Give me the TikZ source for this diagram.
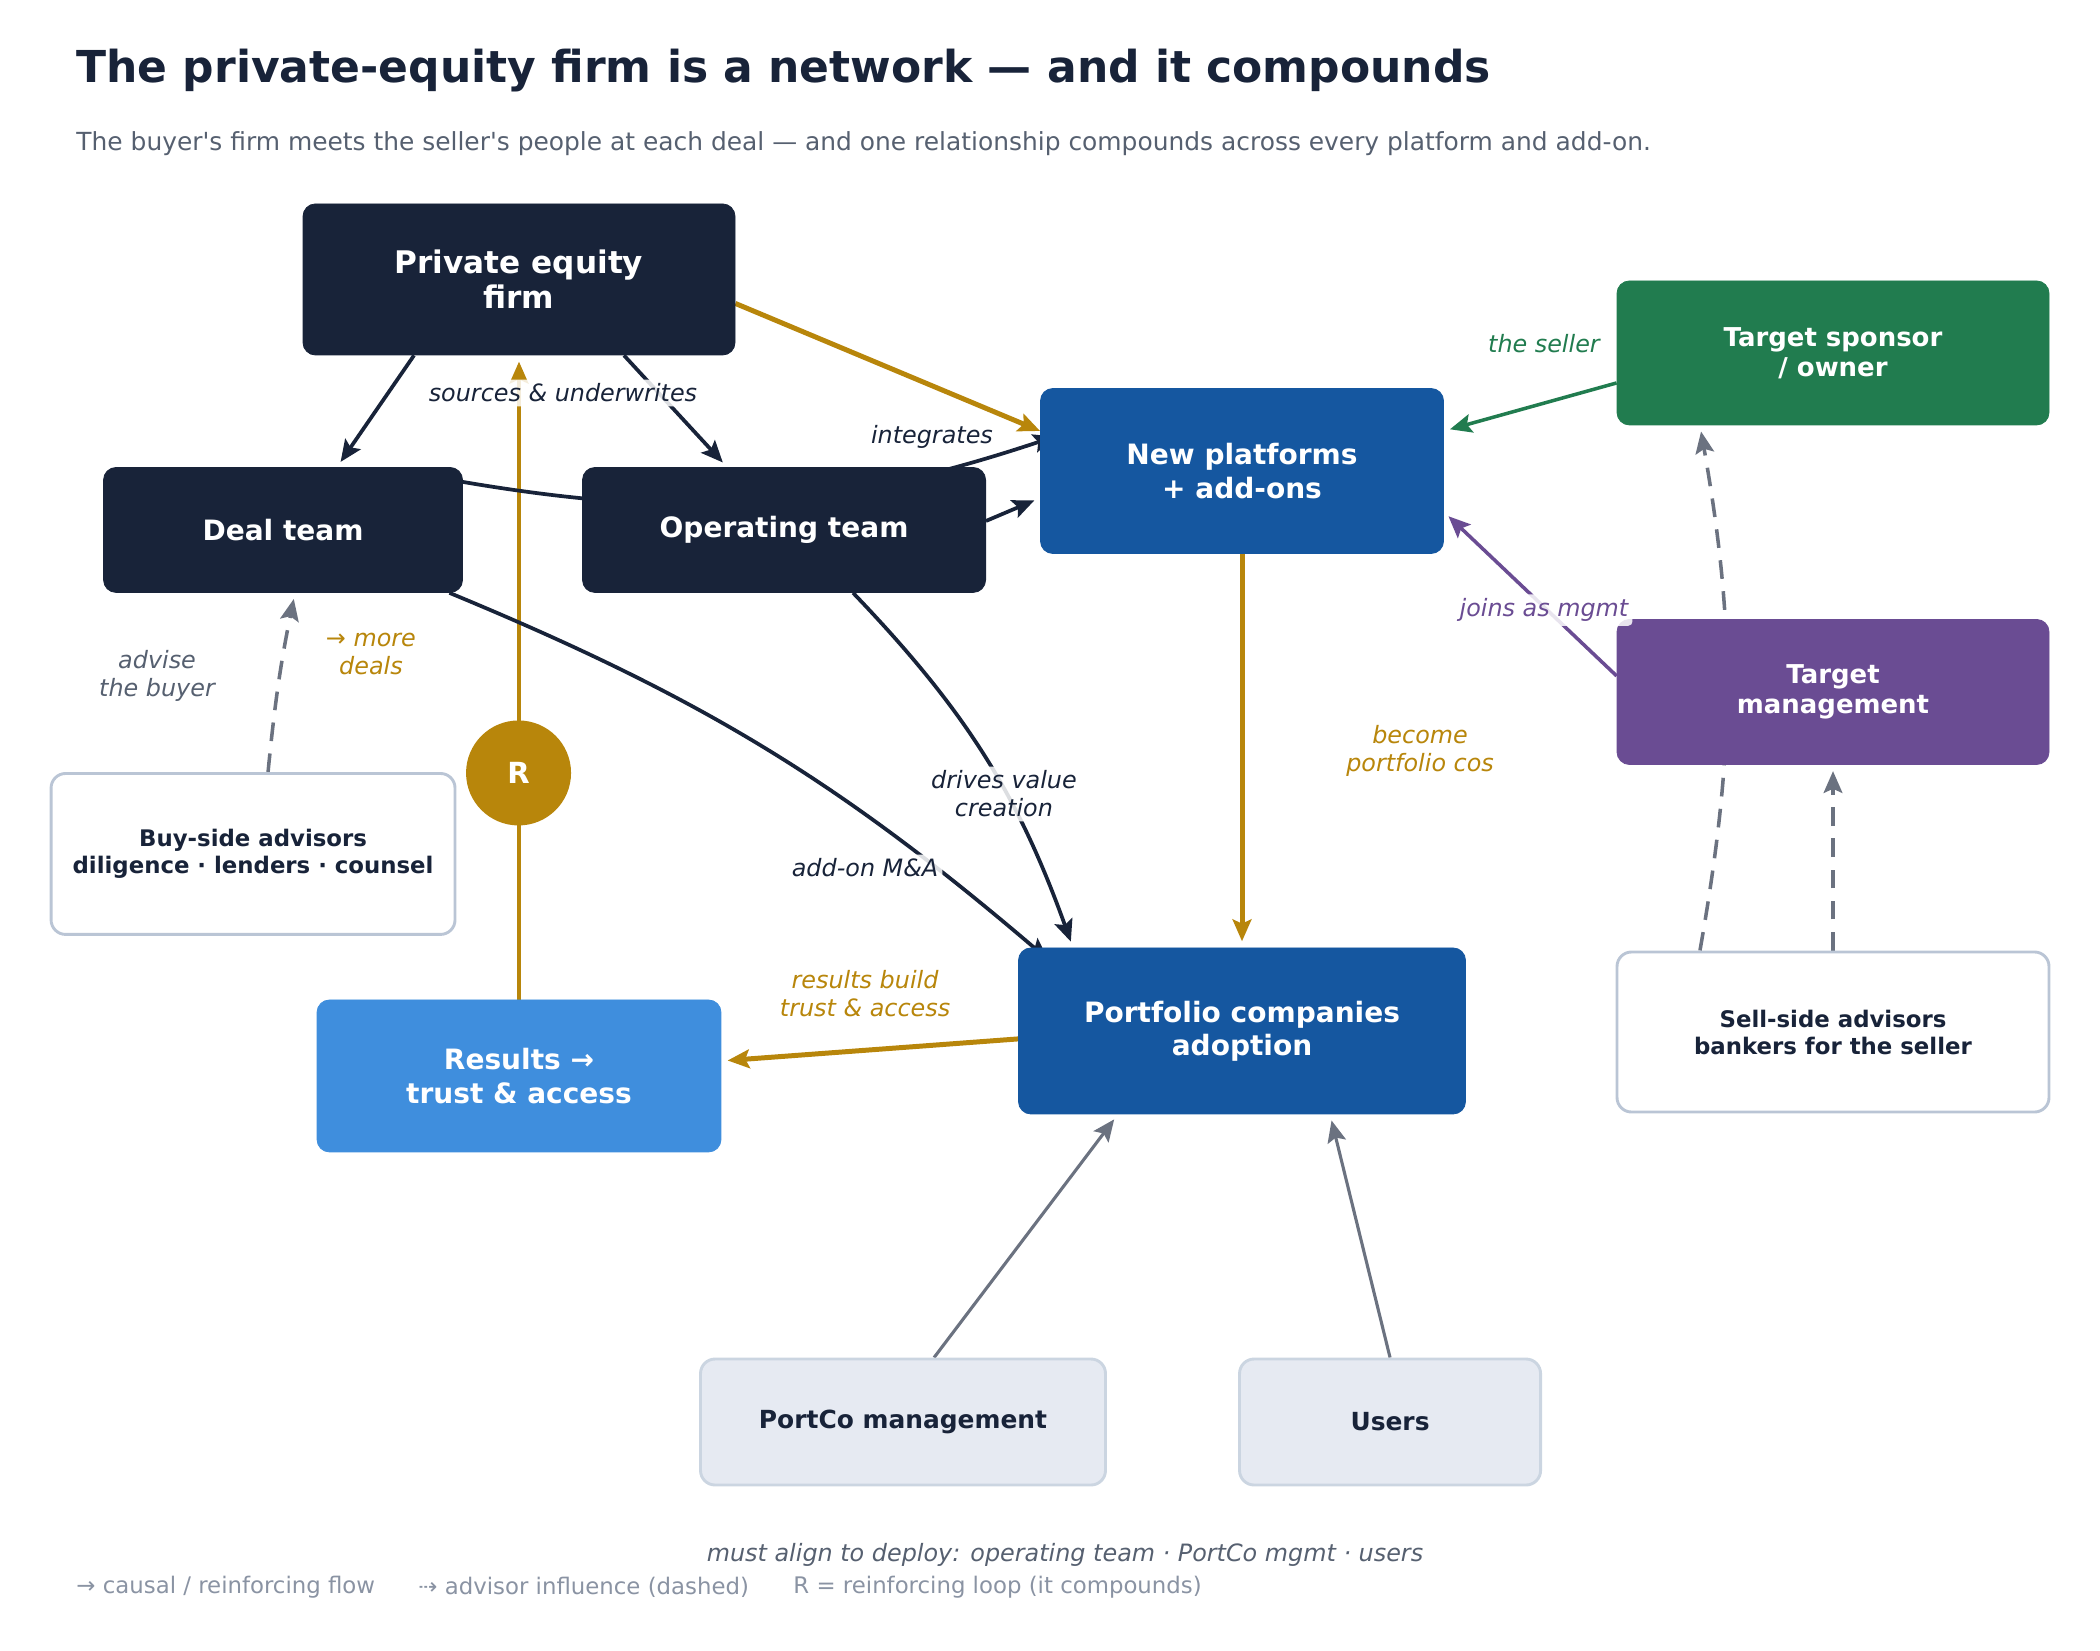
\documentclass[tikz,border=0pt]{standalone}
\usepackage{fontspec}
\setmainfont{DejaVu Sans}[Ligatures=TeXOff,ItalicFont={DejaVu Sans Oblique},BoldFont={DejaVu Sans Bold},BoldItalicFont={DejaVu Sans Bold Oblique}]
\usetikzlibrary{positioning,arrows.meta,calc}

\definecolor{navy}{HTML}{182339}
\definecolor{platblue}{HTML}{1557A0}
\definecolor{resblue}{HTML}{3F8EDD}
\definecolor{sellgreen}{HTML}{217C4F}
\definecolor{mgmtpurple}{HTML}{6A4C93}
\definecolor{gold}{HTML}{B8860B}
\definecolor{arrowgray}{HTML}{6B7280}
\definecolor{advline}{HTML}{BAC5D5}
\definecolor{stakeline}{HTML}{CBD5E1}
\definecolor{stakefill}{HTML}{E6EAF2}
\definecolor{subgray}{HTML}{566070}
\definecolor{leggray}{HTML}{8A93A3}

\newcommand{\boxfont}{\fontsize{13.5}{16}\selectfont\bfseries}
\newcommand{\lblfont}{\fontsize{11.5}{13.5}\selectfont\itshape}

\pgfdeclarelayer{edges}
\pgfsetlayers{edges,main}

\begin{document}
\begin{tikzpicture}[x=1in,y=-1in,
    box/.style={rectangle,rounded corners=6pt,draw=#1,fill=#1,text=white,font=\boxfont,align=center,inner sep=0pt},
    advbox/.style={rectangle,rounded corners=7pt,draw=advline,line width=1.4pt,fill=white,text=navy,font=\fontsize{11}{13}\selectfont\bfseries,align=center,inner sep=0pt},
    stake/.style={rectangle,rounded corners=7pt,draw=stakeline,line width=1.4pt,fill=stakefill,text=navy,font=\fontsize{12}{14}\selectfont\bfseries,inner sep=0pt},
    lbl/.style={font=\lblfont,text=#1,fill=white,fill opacity=0.85,text opacity=1,inner sep=2pt,rounded corners=2pt,align=center},
    legend/.style={anchor=west,inner sep=0pt,font=\fontsize{11}{13}\selectfont,text=leggray},
    flow/.style={->,>={Stealth[length=10.5pt,width=9pt,inset=2pt]},line width=1.8pt,navy,shorten >=3pt},
    loopflow/.style={flow,gold,line width=2.4pt},
    push/.style={flow,line width=1.7pt,#1},
    adv/.style={flow,arrowgray,line width=1.7pt,dash pattern=on 9pt off 6pt},
    stakeflow/.style={flow,arrowgray,line width=1.5pt}]

\useasboundingbox (0,0) rectangle (14,11);

% Title
\node[anchor=west,inner sep=0pt,font=\fontsize{21.2}{25}\selectfont\bfseries,text=navy] (title) at (0.507,0.47) {The private-equity firm is a network — and it compounds};
\node[anchor=west,inner sep=0pt,font=\fontsize{12}{14}\selectfont,text=subgray] (subtitle) at (0.507,0.96) {The buyer's firm meets the seller's people at each deal — and one relationship compounds across every platform and add-on.};

% Buyer side
\node[box=navy,font=\fontsize{15}{17}\selectfont\bfseries,minimum width=2.88in,minimum height=1.007in] (pe) at (3.46,1.863) {Private equity\\firm};
\node[box=navy,minimum width=2.393in,minimum height=0.833in] (deal) at (1.887,3.533) {Deal team};
\node[box=navy,minimum width=2.687in,minimum height=0.833in] (ops) at (5.227,3.533) {Operating team};
\node[advbox,minimum width=2.693in,minimum height=1.073in] (buyside) at (1.687,5.693) {Buy-side advisors\\diligence · lenders · counsel};
\node[circle,fill=gold,minimum size=0.70in,inner sep=0pt,text=white,font=\fontsize{14}{16}\selectfont\bfseries] (loop) at (3.457,5.153) {R};
\node[box=resblue,minimum width=2.693in,minimum height=1.013in] (results) at (3.46,7.173) {Results →\\trust \& access};

% Deals
\node[box=platblue,minimum width=2.687in,minimum height=1.10in] (newplat) at (8.28,3.14) {New platforms\\+ add-ons};
\node[box=platblue,minimum width=2.98in,minimum height=1.107in] (portco) at (8.28,6.873) {Portfolio companies\\adoption};

% Seller side
\node[box=sellgreen,font=\fontsize{12.5}{14.5}\selectfont\bfseries,minimum width=2.88in,minimum height=0.96in] (sponsor) at (12.22,2.353) {Target sponsor\\/ owner};
\node[box=mgmtpurple,font=\fontsize{12.5}{14.5}\selectfont\bfseries,minimum width=2.88in,minimum height=0.967in] (tmgmt) at (12.22,4.613) {Target\\management};
\node[advbox,minimum width=2.88in,minimum height=1.067in] (sellside) at (12.22,6.88) {Sell-side advisors\\bankers for the seller};

% Must align
\node[stake,minimum width=2.70in,minimum height=0.84in] (pcmgmt) at (6.02,9.48) {PortCo management};
\node[stake,minimum width=2.007in,minimum height=0.84in] (users) at (9.267,9.48) {Users};

\begin{pgfonlayer}{edges}
\draw[flow] ([xshift=-0.7in]pe.south) -- ([xshift=0.36in]deal.north);
\draw[flow] ([xshift=0.7in]pe.south) -- ([xshift=-0.38in]ops.north);
\draw[loopflow,shorten >=0pt] ([yshift=-0.16in]pe.east) -- ([yshift=0.267in]newplat.west);
\draw[loopflow] (results.north) -- (pe.south);
\draw[flow,shorten >=0pt] ([yshift=0.32in]deal.east) to[bend right=14] ([xshift=0.1in,yshift=0.23in]newplat.west);
\draw[flow] ([yshift=0.06in]ops.east) -- ([yshift=-0.18in]newplat.west);
\draw[flow,shorten >=0pt] ([xshift=-0.09in]deal.south east) to[bend left=9] ([xshift=0.2in,yshift=-0.08in]portco.north west);
\draw[flow] ([xshift=0.46in]ops.south) to[bend left=12] ([xshift=-1.127in]portco.north);
\draw[loopflow] (newplat.south) -- (portco.north);
\draw[loopflow] ([yshift=-0.053in]portco.west) -- ([yshift=0.1in]results.east);
\draw[push=sellgreen] ([yshift=-0.2in]sponsor.west) -- ([yshift=0.267in]newplat.east);
\draw[push=mgmtpurple] ([yshift=0.107in]tmgmt.west) -- ([yshift=-0.273in]newplat.east);
\draw[adv] ([xshift=-0.887in]sellside.north) to[bend right=10] ([xshift=-0.887in]sponsor.south);
\draw[adv] (sellside.north) -- (tmgmt.south);
\draw[adv] ([xshift=0.1in]buyside.north) to[bend left=3] ([xshift=0.08in]deal.south);
\draw[stakeflow] ([xshift=0.207in]pcmgmt.north) -- ([xshift=-0.827in]portco.south);
\draw[stakeflow] (users.north) -- ([xshift=0.587in]portco.south);
\end{pgfonlayer}

% Edge labels
\node[lbl=navy] (srclbl) at (3.753,2.62) {sources \& underwrites};
\node[lbl=navy] (intlbl) at (6.213,2.913) {integrates};
\node[lbl=sellgreen] (sellerlbl) at (10.293,2.293) {the seller};
\node[lbl=mgmtpurple] (joinslbl) at (10.293,4.067) {joins as mgmt};
\node[lbl=gold] (becomelbl) at (9.467,5.007) {become\\portfolio cos};
\node[lbl=navy] (driveslbl) at (6.693,5.293) {drives value\\creation};
\node[lbl=navy] (addonlbl) at (5.767,5.787) {add-on M\&A};
\node[lbl=gold] (resultslbl) at (5.767,6.627) {results build\\trust \& access};
\node[lbl=subgray] (adviselbl) at (1.047,4.507) {advise\\the buyer};
\node[lbl=gold] (morelbl) at (2.473,4.36) {→ more\\deals};

% Footer
\node[font=\fontsize{11.5}{13.5}\selectfont\itshape,text=subgray] (align) at (7.1,10.367) {must align to deploy: operating team · PortCo mgmt · users};
\node[legend] (lega) at (0.507,10.58) {→ causal / reinforcing flow};
\node[legend] (legb) at (2.787,10.58) {⇢ advisor influence (dashed)};
\node[legend] (legc) at (5.287,10.58) {R = reinforcing loop (it compounds)};

\end{tikzpicture}
\end{document}
